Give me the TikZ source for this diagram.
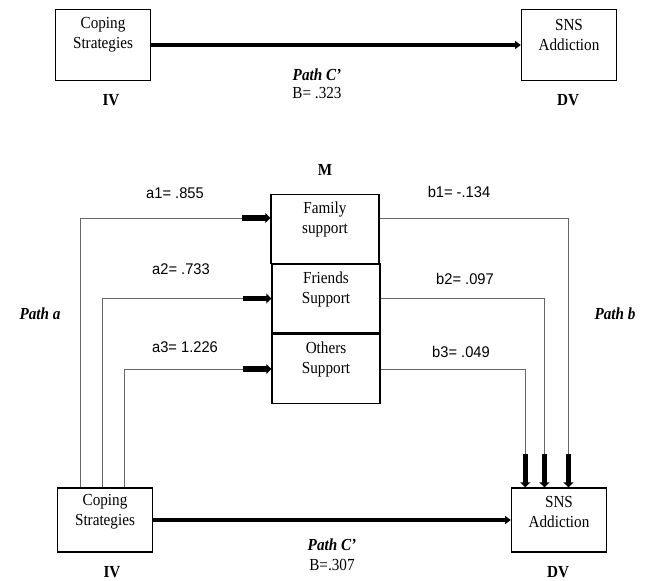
\documentclass[tikz,border=0pt]{standalone}
\usepackage{fontspec}
\setmainfont[FakeStretch=0.9]{Liberation Serif}
\newfontfamily\coeffont[FakeStretch=0.95]{Liberation Sans}
\usetikzlibrary{arrows.meta,positioning}

\begin{document}
\begin{tikzpicture}[x=0.025cm, y=-0.025cm,
    font=\fontsize{12}{14.2}\selectfont,
    varbox/.style={draw, line width=0.9pt, inner sep=0pt, minimum width=2.375cm, minimum height=1.775cm},
    medbox/.style={varbox, minimum width=2.7cm, minimum height=1.725cm},
    lowbox/.style={varbox, minimum height=1.6cm},
    boxtext/.style={align=center, inner sep=0pt},
    coef/.style={font=\coeffont\fontsize{11}{13}\selectfont},
    tag/.style={font=\fontsize{12}{14}\selectfont\bfseries},
    pathtag/.style={font=\fontsize{12}{14}\selectfont\bfseries\itshape},
    direct/.style={line width=2.4pt, -{Triangle[length=4pt,width=5.5pt]}},
    thinpath/.style={line width=0.6pt, black!60},
    stub/.style={line width=3.6pt, -{Triangle[length=3.5pt,width=7pt]}},
  ]
  \useasboundingbox (0,0) rectangle (652,580);

  % total effect
  \node[varbox] (cs1) at (103,45) {};
  \node[boxtext] (cs1txt) at ([yshift=-0.65cm]cs1.north) {Coping\\Strategies};
  \node[varbox] (sns1) at (569,45) {};
  \node[boxtext] (sns1txt) at ([yshift=-0.65cm]sns1.north) {SNS\\Addiction};
  \draw[direct] (cs1) -- (sns1);
  \node[pathtag] (pc1) at (317,75) {Path C’};
  \node (beta1) at (317,93) {B= .323};
  \node[tag] (iv1) at (111,100) {IV};
  \node[tag] (dv1) at (568,100) {DV};

  % mediators
  \node[tag] (m) at (325,170) {M};
  \node[medbox] (fam) at (325,229) {};
  \node[boxtext] (famtxt) at ([yshift=-0.65cm]fam.north) {Family\\support};
  \node[medbox] (fri) at (326,298.5) {};
  \node[boxtext] (fritxt) at ([yshift=-0.65cm]fri.north) {Friends\\Support};
  \node[medbox] (oth) at (326,369) {};
  \node[boxtext] (othtxt) at ([yshift=-0.65cm]oth.north) {Others\\Support};

  % direct effect
  \node[lowbox] (cs2) at (105,520) {};
  \node[boxtext] (cs2txt) at ([yshift=-0.62cm]cs2.north) {Coping\\Strategies};
  \node[lowbox] (sns2) at (559,520) {};
  \node[boxtext] (sns2txt) at ([yshift=-0.62cm]sns2.north) {SNS\\Addiction};
  \draw[direct] (cs2) -- (sns2);
  \node[pathtag] (pc2) at (332,545) {Path C’};
  \node (beta2) at (332,565) {B=.307};
  \node[tag] (iv2) at (112,572) {IV};
  \node[tag] (dv2) at (558,572) {DV};

  % path a
  \coordinate (a1in) at ([xshift=-0.7cm,yshift=0.275cm]fam.west);
  \coordinate (a2in) at ([xshift=-0.7cm]fri.west);
  \coordinate (a3in) at ([xshift=-0.7cm]oth.west);
  \draw[thinpath] ([xshift=0.6cm]cs2.north west) |- (a1in);
  \draw[thinpath] ([xshift=1.15cm]cs2.north west) |- (a2in);
  \draw[thinpath] ([xshift=1.7cm]cs2.north west) |- (a3in);
  \draw[stub] (a1in) -- ([yshift=0.275cm]fam.west);
  \draw[stub] (a2in) -- (fri.west);
  \draw[stub] (a3in) -- (oth.west);

  % path b
  \coordinate (b1in) at ([xshift=1.44cm,yshift=0.825cm]sns2.north west);
  \coordinate (b2in) at ([xshift=0.84cm,yshift=0.825cm]sns2.north west);
  \coordinate (b3in) at ([xshift=0.36cm,yshift=0.825cm]sns2.north west);
  \draw[thinpath] ([yshift=0.275cm]fam.east) -| (b1in);
  \draw[thinpath] (fri.east) -| (b2in);
  \draw[thinpath] (oth.east) -| (b3in);
  \draw[stub] (b1in) -- ([xshift=1.44cm]sns2.north west);
  \draw[stub] (b2in) -- ([xshift=0.84cm]sns2.north west);
  \draw[stub] (b3in) -- ([xshift=0.36cm]sns2.north west);

  % coefficients
  \node[coef] (ca1) at (175,193) {a1= .855};
  \node[coef] (ca2) at (181,269) {a2= .733};
  \node[coef] (ca3) at (185,347) {a3= 1.226};
  \node[coef] (cb1) at (459,192) {b1= -.134};
  \node[coef] (cb2) at (465,279) {b2= .097};
  \node[coef] (cb3) at (461,352) {b3= .049};
  \node[pathtag] (pa) at (40,314) {Path a};
  \node[pathtag] (pb) at (615,314) {Path b};
\end{tikzpicture}
\end{document}
